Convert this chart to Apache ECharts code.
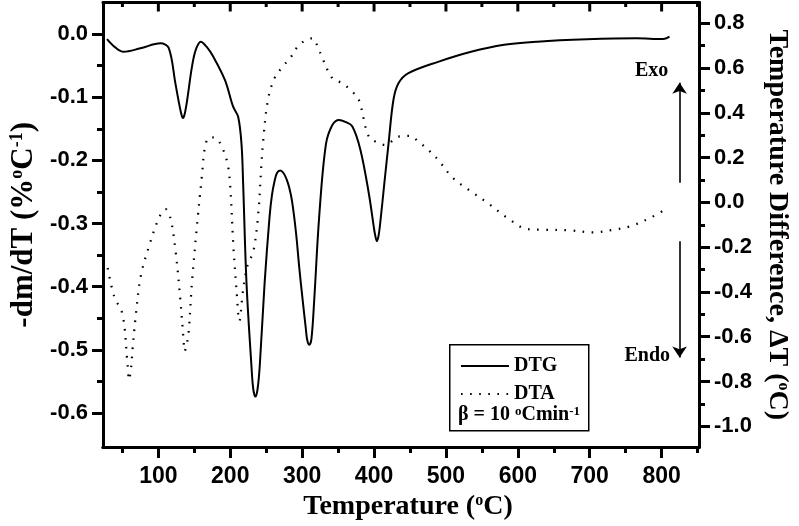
<!DOCTYPE html>
<html>
<head>
<meta charset="utf-8">
<script src="https://cdn.jsdelivr.net/npm/echarts@6/dist/echarts.min.js"></script>
<style>html,body{margin:0;padding:0;background:#fff;}#c{width:799px;height:526px;}</style>
</head>
<body>
<div id="c"></div>
<script>
// ---- data ----
const dtgTemp = [28.5, 40, 51.6, 75, 103, 114.4, 123.7, 128, 132, 134.3, 136.5, 140, 146.7, 152, 159, 167, 176.5, 192.7, 204, 211, 215.7, 217.9, 222.6, 229.5, 232, 235, 238, 241, 247.8, 254.7, 258, 261.6, 265, 269.5, 274, 278, 282, 286, 291.5, 296, 300.7, 305, 307, 310, 313, 316.8, 323.7, 333, 342, 351.3, 360, 369.7, 381, 392.7, 399.6, 401.5, 404, 406.5, 409, 414, 420.2, 427, 434, 447.8, 489, 535, 581, 627, 696, 765, 802, 811];
const dtgValue = [-0.008, -0.021, -0.028, -0.0225, -0.0146, -0.022, -0.078, -0.105, -0.127, -0.133, -0.127, -0.105, -0.052, -0.025, -0.012, -0.02, -0.036, -0.073, -0.115, -0.131, -0.175, -0.236, -0.394, -0.526, -0.562, -0.574, -0.562, -0.526, -0.394, -0.289, -0.255, -0.233, -0.220, -0.216, -0.220, -0.229, -0.243, -0.265, -0.315, -0.37, -0.421, -0.465, -0.484, -0.492, -0.482, -0.421, -0.289, -0.175, -0.144, -0.136, -0.139, -0.146, -0.183, -0.252, -0.305, -0.318, -0.328, -0.318, -0.295, -0.24, -0.173, -0.104, -0.078, -0.062, -0.044, -0.028, -0.017, -0.012, -0.0083, -0.0067, -0.0078, -0.004];
const dtaTemp = [29.5, 38.6, 50.2, 57, 59.3, 62, 64, 68.5, 75.4, 86.9, 100.7, 109.9, 116.8, 123.7, 130.6, 135.2, 136.5, 139, 142, 146.7, 153.6, 160.5, 165, 171.3, 177, 183.4, 195, 199.6, 204.1, 208.7, 212.7, 217.9, 224.8, 231.7, 238.6, 243.2, 245.5, 252.4, 261.6, 273, 284.7, 293.8, 305, 314.5, 321, 328.2, 342, 355.8, 369.6, 378.9, 392.7, 406.4, 415.7, 434, 450.2, 461.6, 475.4, 489.2, 509.9, 535, 558.2, 585.8, 613.3, 636.4, 673, 705.3, 733, 756, 783.5, 808.8];
const dtaValue = [-0.293, -0.42, -0.501, -0.717, -0.792, -0.74, -0.658, -0.509, -0.331, -0.197, -0.07, -0.03, -0.07, -0.211, -0.435, -0.621, -0.665, -0.64, -0.583, -0.36, -0.107, 0.116, 0.25, 0.291, 0.29, 0.279, 0.19, 0.086, -0.182, -0.39, -0.53, -0.39, -0.271, -0.226, -0.063, 0.16, 0.265, 0.458, 0.555, 0.607, 0.651, 0.696, 0.725, 0.733, 0.7, 0.644, 0.555, 0.532, 0.495, 0.458, 0.294, 0.265, 0.257, 0.294, 0.297, 0.272, 0.235, 0.19, 0.109, 0.049, -0.003, -0.07, -0.119, -0.122, -0.125, -0.134, -0.122, -0.107, -0.07, -0.025];

const xMajorTicks = [100, 200, 300, 400, 500, 600, 700, 800];
const xMinorTicks = [50, 150, 250, 350, 450, 550, 650, 750, 850];
const leftMajorTicks = [0.0, -0.1, -0.2, -0.3, -0.4, -0.5, -0.6];
const leftMinorTicks = [-0.05, -0.15, -0.25, -0.35, -0.45, -0.55];
const rightMajorTicks = [0.8, 0.6, 0.4, 0.2, 0.0, -0.2, -0.4, -0.6, -0.8, -1.0];
const rightMinorTicks = [0.7, 0.5, 0.3, 0.1, -0.1, -0.3, -0.5, -0.7, -0.9];

const seriesNames = ['DTG', 'DTA'];
const xTitle = 'Temperature ({sup|o}C)';
const leftTitle = '-dm/dT (%{sup|o}C{sup|-1})';
const rightTitle = 'Temperature Difference, \u0394T ({sup|o}C)';
const rateNote = '\u03b2 = 10 {sup|o}Cmin{sup|-1}';

const X_MIN = 23, X_MAX = 852;
const L_MIN = -0.654, L_MAX = 0.05;
const R_MIN = -1.093, R_MAX = 0.893;

const SANS = 'Liberation Sans';
const SERIF = 'Liberation Serif';
const supStyle = (fs) => ({ fontFamily: SERIF, fontWeight: 'bold', fontSize: fs, verticalAlign: 'top', color: '#000' });

const tickLabelStyle = { fontFamily: SANS, fontWeight: 'bold', fontSize: 22, color: '#000' };
const lineBlack = { color: '#000', width: 3 };

function blankLabels(values) {
  return { show: true, customValues: values, formatter: () => '', fontSize: 1 };
}
function mkX(opts) {
  return Object.assign({
    type: 'value', min: X_MIN, max: X_MAX, gridIndex: 0,
    splitLine: { show: false },
    axisLine: { show: true, onZero: false, lineStyle: lineBlack },
    axisLabel: { show: false },
    axisTick: { show: false }
  }, opts);
}
function mkY(opts) {
  return Object.assign({
    type: 'value', gridIndex: 0,
    splitLine: { show: false },
    axisLine: { show: true, onZero: false, lineStyle: lineBlack },
    axisLabel: { show: false },
    axisTick: { show: false }
  }, opts);
}

const legendBox = { id: 'legendBox', type: 'rect', left: 449, top: 344, z: 1, shape: { width: 139, height: 86 },
  style: { fill: 'rgba(0,0,0,0)', stroke: '#000', lineWidth: 1.5 } };
const rateText = { id: 'rateText', type: 'text', left: 458, top: 405, z: 5,
  style: { text: rateNote, fontFamily: SERIF, fontWeight: 'bold', fontSize: 20, fill: '#000',
    rich: { sup: { fontFamily: SERIF, fontWeight: 'bold', fontSize: 13, verticalAlign: 'top', fill: '#000' } } } };

const chart = echarts.init(document.getElementById('c'), null, { renderer: 'canvas' });
const option = {
  animation: false,
  backgroundColor: '#fff',
  grid: { left: 102, right: 96, top: 2.5, bottom: 78.5, containLabel: false },
  xAxis: [
    mkX({
      position: 'bottom',
      axisTick: { show: true, inside: false, length: 11, lineStyle: lineBlack, customValues: xMajorTicks },
      axisLabel: { show: true, margin: 18, customValues: xMajorTicks, ...tickLabelStyle, fontSize: 23 },
      name: xTitle, nameLocation: 'middle', nameGap: 44,
      nameTextStyle: { fontFamily: SERIF, fontWeight: 'bold', fontSize: 28, color: '#000', padding: [0, 0, 0, 14], rich: { sup: supStyle(16) } }
    }),
    mkX({ position: 'bottom',
      axisTick: { show: true, inside: false, length: 6, lineStyle: lineBlack, customValues: xMinorTicks },
      axisLabel: blankLabels(xMinorTicks) }),
    mkX({ position: 'top' })
  ],
  yAxis: [
    mkY({
      position: 'left', min: L_MIN, max: L_MAX,
      axisTick: { show: true, inside: false, length: 11, lineStyle: lineBlack, customValues: leftMajorTicks },
      axisLabel: { show: true, margin: 15, customValues: leftMajorTicks, formatter: v => v.toFixed(1), ...tickLabelStyle },
      name: leftTitle, nameLocation: 'middle', nameGap: 64, nameRotate: 90,
      nameTextStyle: { fontFamily: SERIF, fontWeight: 'bold', fontSize: 31, color: '#000', rich: { sup: supStyle(18) } }
    }),
    mkY({ position: 'left', min: L_MIN, max: L_MAX,
      axisTick: { show: true, inside: false, length: 6, lineStyle: lineBlack, customValues: leftMinorTicks },
      axisLabel: blankLabels(leftMinorTicks) }),
    mkY({
      position: 'right', min: R_MIN, max: R_MAX,
      axisTick: { show: true, inside: false, length: 11, lineStyle: lineBlack, customValues: rightMajorTicks },
      axisLabel: { show: true, margin: 15, customValues: rightMajorTicks, formatter: v => v.toFixed(1), ...tickLabelStyle },
      name: rightTitle, nameLocation: 'middle', nameGap: 64, nameRotate: -90,
      nameTextStyle: { fontFamily: SERIF, fontWeight: 'bold', fontSize: 28, color: '#000', rich: { sup: supStyle(16) } }
    }),
    mkY({ position: 'right', min: R_MIN, max: R_MAX,
      axisTick: { show: true, inside: false, length: 6, lineStyle: lineBlack, customValues: rightMinorTicks },
      axisLabel: blankLabels(rightMinorTicks) })
  ],
  legend: {
    data: seriesNames,
    orient: 'vertical', left: 455, top: 351,
    itemWidth: 48, itemHeight: 14, itemGap: 8,
    itemStyle: { opacity: 0 },
    textStyle: { fontFamily: SERIF, fontWeight: 'bold', fontSize: 20, color: '#000' },
    selectedMode: false
  },
  graphic: [legendBox, rateText],
  series: [
    {
      name: seriesNames[0], type: 'line', xAxisIndex: 0, yAxisIndex: 0,
      data: dtgTemp.map((t, i) => [t, dtgValue[i]]),
      showSymbol: false, symbol: 'none', smooth: 0.35,
      lineStyle: { color: '#000', width: 2 }, itemStyle: { color: '#000' }
    },
    {
      name: seriesNames[1], type: 'line', xAxisIndex: 0, yAxisIndex: 2,
      data: dtaTemp.map((t, i) => [t, dtaValue[i]]),
      showSymbol: false, symbol: 'none', smooth: 0.35,
      lineStyle: { color: '#000', width: 2.2, type: [1.6, 7.5] }, itemStyle: { color: '#000' },
      markLine: {
        silent: true, symbol: ['none', 'arrow'], symbolSize: 11,
        label: { show: false },
        lineStyle: { color: '#000', width: 1.6, type: 'solid' },
        data: [
          [{ coord: [825, 0.088] }, { coord: [825, 0.534] }],
          [{ coord: [825, -0.174] }, { coord: [825, -0.693] }]
        ]
      },
      markPoint: {
        silent: true, symbol: 'circle', symbolSize: 0,
        label: { show: true, position: 'inside', formatter: p => p.name,
          fontFamily: SERIF, fontWeight: 'bold', fontSize: 20, color: '#000' },
        data: [
          { name: 'Exo', coord: [786, 0.587] },
          { name: 'Endo', coord: [780, -0.684] }
        ]
      }
    }
  ]
};
chart.setOption(option);

// mirrored tick marks along the top frame edge, placed through the x axis scale
try {
  const topY = chart.convertToPixel({ yAxisIndex: 0 }, L_MAX);
  const tickMarks = [];
  const addTicks = (values, len, tag) => values.forEach((v, i) => {
    const px = chart.convertToPixel({ xAxisIndex: 0 }, v);
    tickMarks.push({ id: 'topTick' + tag + i, type: 'line', z: 10, silent: true,
      shape: { x1: px, y1: topY, x2: px, y2: topY + len },
      style: { stroke: '#000', lineWidth: 3 } });
  });
  addTicks(xMajorTicks, 9, 'M');
  addTicks(xMinorTicks, 4.5, 'm');
  chart.setOption({ graphic: [legendBox, rateText].concat(tickMarks) });
} catch (e) { /* keep chart without mirrored ticks */ }
</script>
</body>
</html>
